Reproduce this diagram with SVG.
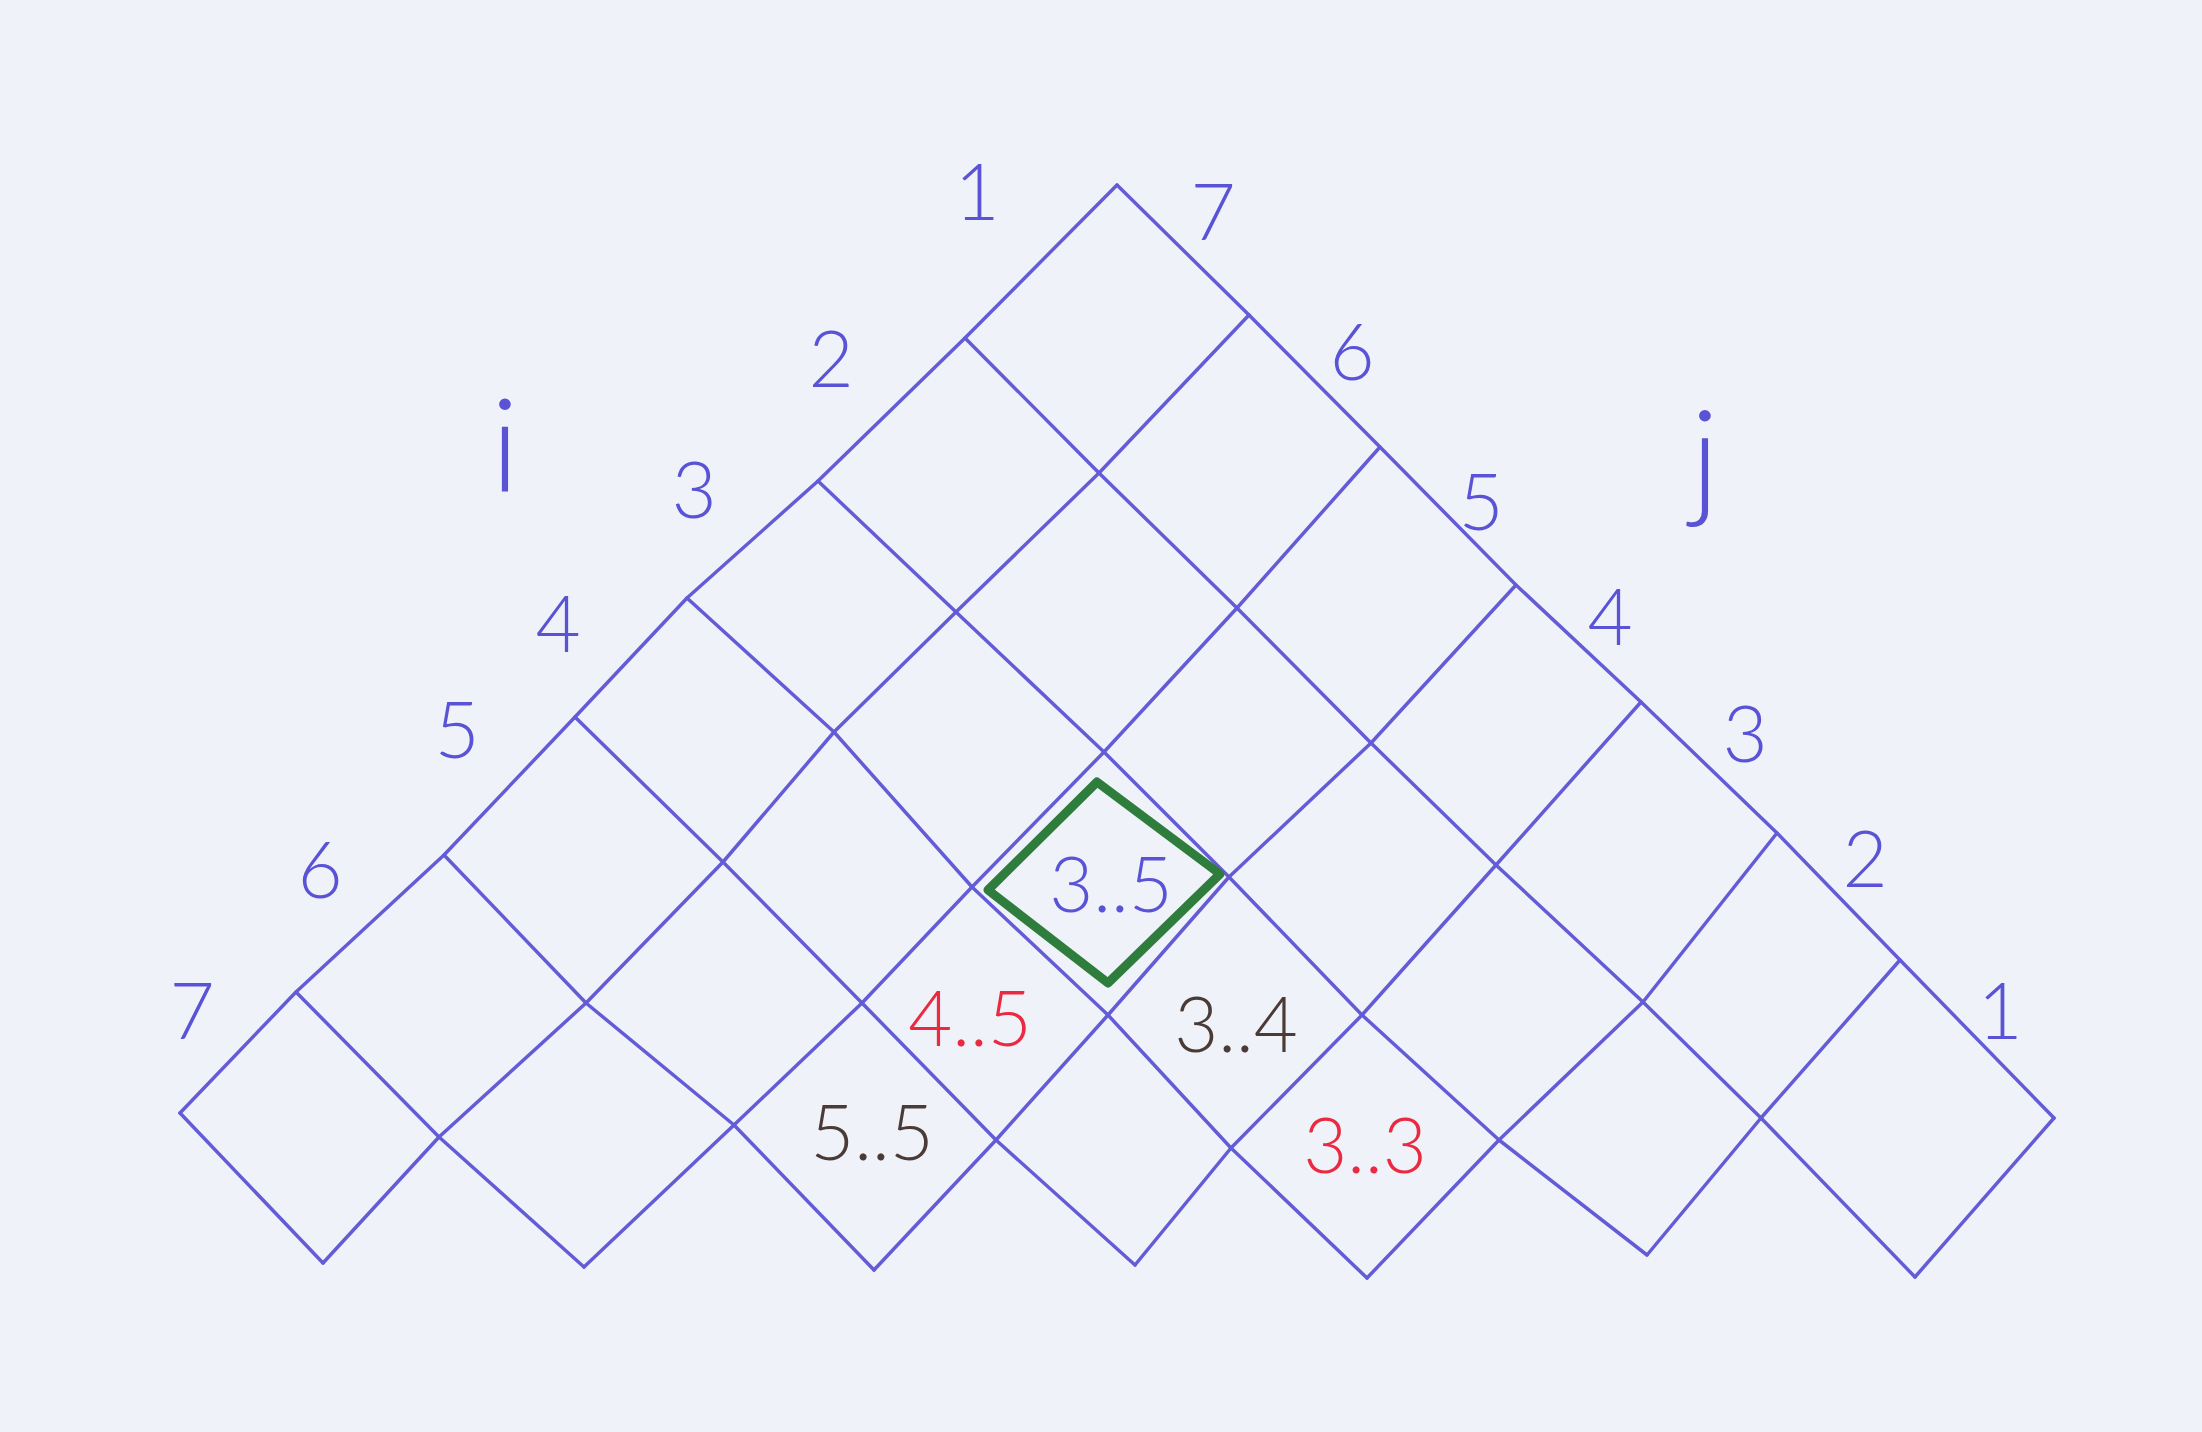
<svg xmlns="http://www.w3.org/2000/svg" width="2202" height="1432" viewBox="0 0 2202 1432">
<style>
.grid{fill:none;stroke:#645cd6;stroke-width:3.5;stroke-linecap:round;stroke-linejoin:round}
.hl{fill:none;stroke:#2f7d3c;stroke-width:9;stroke-linecap:round;stroke-linejoin:round}
.lbl{font-family:"Lato","Liberation Sans","DejaVu Sans",sans-serif;font-weight:300;font-size:78px;fill:#5a53d6;text-anchor:middle}
.big{font-size:130px}
.cell{font-family:"Lato","Liberation Sans","DejaVu Sans",sans-serif;font-weight:300;font-size:76px;text-anchor:middle}
.blue{fill:#5a53d6}
.red{fill:#ea2a40}
.brown{fill:#4a3b37}
</style>
<rect width="2202" height="1432" fill="#f0f2fa"/>
<g id="connectors">
<polyline class="grid" points="1117,185 965,338 818,481 687,598 575,717 444,855 296,992 180,1113"/>
<polyline class="grid" points="1249,315 1099,473 956,612 834,732 723,862 586,1003 439,1137 323,1263"/>
<polyline class="grid" points="1380,447 1237,608 1104,752 972,887 862,1003 734,1125 584,1267"/>
<polyline class="grid" points="1516,585 1371,743 1229,877 1108,1015 996,1140 874,1270"/>
<polyline class="grid" points="1641,702 1496,865 1362,1015 1231,1148 1135,1265"/>
<polyline class="grid" points="1777,833 1643,1002 1499,1140 1367,1278"/>
<polyline class="grid" points="1900,960 1761,1118 1647,1255"/>
<polyline class="grid" points="2054,1118 1915,1277"/>
<polyline class="grid" points="1117,185 1249,315 1380,447 1516,585 1641,702 1777,833 1900,960 2054,1118"/>
<polyline class="grid" points="965,338 1099,473 1237,608 1371,743 1496,865 1643,1002 1761,1118 1915,1277"/>
<polyline class="grid" points="818,481 956,612 1104,752 1229,877 1362,1015 1499,1140 1647,1255"/>
<polyline class="grid" points="687,598 834,732 972,887 1108,1015 1231,1148 1367,1278"/>
<polyline class="grid" points="575,717 723,862 862,1003 996,1140 1135,1265"/>
<polyline class="grid" points="444,855 586,1003 734,1125 874,1270"/>
<polyline class="grid" points="296,992 439,1137 584,1267"/>
<polyline class="grid" points="180,1113 323,1263"/>
</g>
<g id="labels-i">
<text class="lbl" x="977" y="220">1</text>
<text class="lbl" x="831" y="387">2</text>
<text class="lbl" x="694" y="518">3</text>
<text class="lbl" x="558" y="652">4</text>
<text class="lbl" x="457" y="758">5</text>
<text class="lbl" x="320" y="898">6</text>
<text class="lbl" x="192" y="1039">7</text>
<text class="lbl big" x="505" y="492">i</text>
</g>
<g id="labels-j">
<text class="lbl" x="1213" y="240">7</text>
<text class="lbl" x="1352" y="380">6</text>
<text class="lbl" x="1481" y="530">5</text>
<text class="lbl" x="1610" y="645">4</text>
<text class="lbl" x="1745" y="762">3</text>
<text class="lbl" x="1865" y="887">2</text>
<text class="lbl" x="2000" y="1039">1</text>
<text class="lbl big" x="1705" y="503">j</text>
</g>
<g id="cell-3-5">
<path class="hl" d="M1097,782 L1220,874 L1108,983 L988,890 Z"/>
<text class="cell blue" x="1111" y="912">3..5</text>
</g>
<g id="cell-4-5"><text class="cell red" x="970" y="1046">4..5</text></g>
<g id="cell-3-4"><text class="cell brown" x="1236" y="1052">3..4</text></g>
<g id="cell-5-5"><text class="cell brown" x="872" y="1160">5..5</text></g>
<g id="cell-3-3"><text class="cell red" x="1365" y="1173">3..3</text></g>
</svg>
